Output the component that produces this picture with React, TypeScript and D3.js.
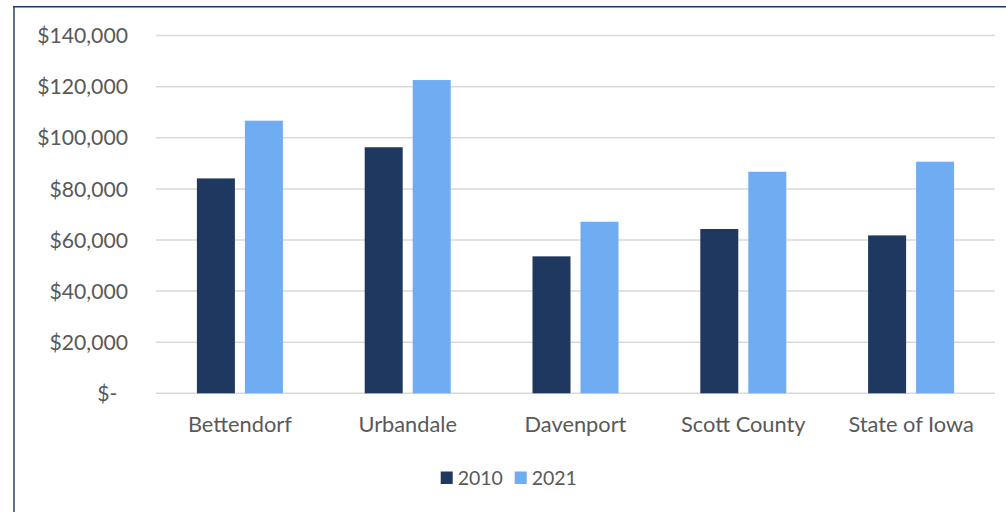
import React from "react";
import * as d3 from "d3";

const categories = ["Bettendorf", "Urbandale", "Davenport", "Scott County", "State of Iowa"];
const seriesNames = ["2010", "2021"];
const values2010 = [84100, 96300, 53600, 64300, 61800];
const values2021 = [106700, 122600, 67150, 86700, 90650];
const yTicks = [0, 20000, 40000, 60000, 80000, 100000, 120000, 140000];
const yTickLabels = ["$-", "$20,000", "$40,000", "$60,000", "$80,000", "$100,000", "$120,000", "$140,000"];
const colors = ["#1E3860", "#6FACF2"];

const W = 1006;
const H = 512;
const FONT = "Lato, 'Open Sans', sans-serif";

export default function App() {
  const left = 156;
  const right = 995;
  const top = 35.6;
  const bottom = 393.3;

  const x0 = d3.scaleBand<string>().domain(categories).range([left, right]).padding(0);
  const bw = x0.bandwidth();
  const x1 = d3
    .scaleBand<string>()
    .domain(seriesNames)
    .range([0, bw])
    .paddingInner(0.2083)
    .paddingOuter(0.852);
  const y = d3.scaleLinear().domain([0, 140000]).range([bottom, top]);

  const seriesValues = [values2010, values2021];

  return (
    <div style={{ position: "absolute", left: 0, top: 0, width: W, height: H, background: "#fff" }}>
      <svg width={W} height={H} style={{ display: "block" }}>
        <rect x={0} y={0} width={W} height={H} fill="#fff" />
        {/* gridlines */}
        {yTicks.map((t) => (
          <line key={t} x1={left} x2={right} y1={y(t)} y2={y(t)} stroke="#D9D9D9" strokeWidth={1.5} />
        ))}
        {/* bars */}
        {seriesNames.map((s, si) =>
          categories.map((c, ci) => {
            const v = seriesValues[si][ci];
            const bx = (x0(c) ?? 0) + (x1(s) ?? 0);
            return (
              <rect
                key={s + c}
                x={bx}
                y={y(v)}
                width={x1.bandwidth()}
                height={y(0) - y(v)}
                fill={colors[si]}
              />
            );
          })
        )}
        {/* y tick labels */}
        {yTicks.map((t, i) => (
          <text
            key={"yl" + t}
            x={t === 0 ? 117.5 : 128}
            y={y(t)}
            dy="0.36em"
            textAnchor="end"
            fontFamily={FONT}
            fontSize={21.2}
            fill="#595959"
          >
            {yTickLabels[i]}
          </text>
        ))}
        {/* category labels */}
        {categories.map((c) => (
          <text
            key={"xl" + c}
            x={(x0(c) ?? 0) + bw / 2}
            y={431.7}
            textAnchor="middle"
            fontFamily={FONT}
            fontSize={21.8}
            fill="#595959"
          >
            {c}
          </text>
        ))}
        {/* legend */}
        {seriesNames.map((s, i) => {
          const lx = [440.7, 514.7][i];
          return (
            <g key={"lg" + s}>
              <rect x={lx} y={471.5} width={12} height={12.5} fill={colors[i]} />
              <text x={lx + 17} y={485} fontFamily={FONT} fontSize={19.5} fill="#595959">
                {s}
              </text>
            </g>
          );
        })}
        {/* border */}
        <line x1={14} x2={14} y1={6} y2={H} stroke="#5D7196" strokeWidth={2} />
        <line x1={13} x2={W} y1={6.8} y2={6.8} stroke="#1F3864" strokeWidth={1.6} />
      </svg>
    </div>
  );
}
